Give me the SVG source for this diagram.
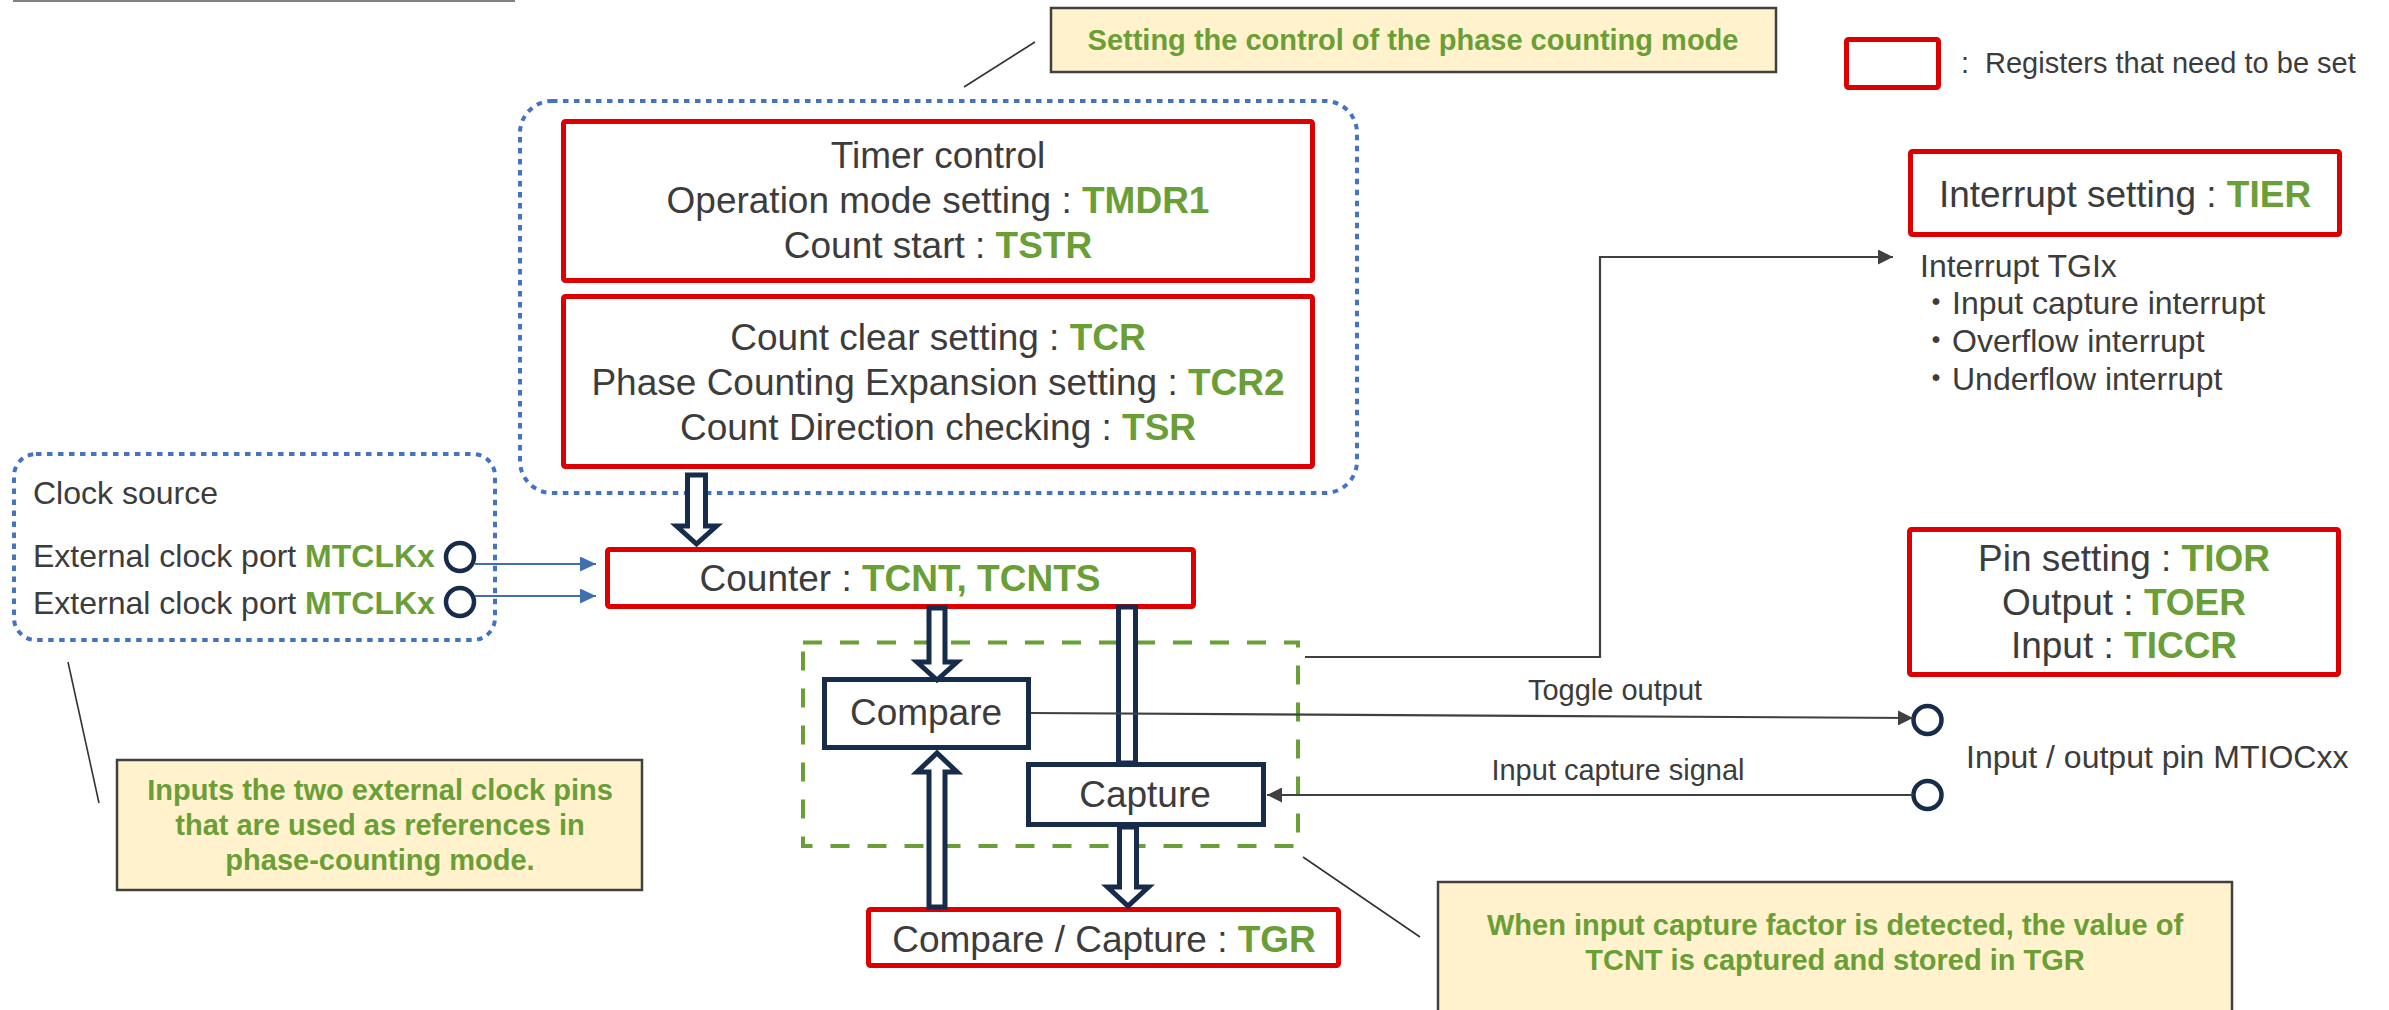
<svg xmlns="http://www.w3.org/2000/svg" width="2389" height="1010" viewBox="0 0 2389 1010">
  <defs>
    <style>
      .txt { font-family: "Liberation Sans", Arial, "Noto Sans CJK JP", sans-serif; fill: #3c3c3c; }
      .reg { font-weight: bold; fill: #6a9e36; }
      .note { font-family: "Liberation Sans", Arial, sans-serif; font-weight: bold; fill: #6a9e36; font-size: 29px; text-anchor: middle; }
      .big { font-size: 37px; text-anchor: middle; }
      .mid { font-size: 32px; }
      .small { font-size: 29px; }
      .redbox { fill: #ffffff; stroke: #dd0000; stroke-width: 5; }
      .navybox { fill: #ffffff; stroke: #172b4a; stroke-width: 5; }
      .hollow { fill: #ffffff; stroke: #172b4a; stroke-width: 5; stroke-linejoin: miter; }
      .dotted { fill: none; stroke: #4472c4; stroke-width: 4; stroke-dasharray: 5.5 5.5; }
      .callout { fill: #fff2cc; stroke: #404040; stroke-width: 2.5; }
      .leader { stroke: #333333; stroke-width: 1.6; fill: none; }
      .wire { stroke: #404040; stroke-width: 2.2; fill: none; }
      .bluewire { stroke: #3e6fb0; stroke-width: 2.2; fill: none; }
      .pin { fill: #ffffff; stroke: #172b4a; stroke-width: 4.5; }
    </style>
    <marker id="arrowDark" markerUnits="userSpaceOnUse" markerWidth="15" markerHeight="15" viewBox="0 0 15 15" refX="15" refY="7.5" orient="auto">
      <path d="M0,0 L15,7.5 L0,15 Z" fill="#404040"/>
    </marker>
    <marker id="arrowBlue" markerUnits="userSpaceOnUse" markerWidth="16" markerHeight="15" viewBox="0 0 16 15" refX="16" refY="7.5" orient="auto">
      <path d="M0,0 L16,7.5 L0,15 Z" fill="#3e6fb0"/>
    </marker>
  </defs>

  <rect width="2389" height="1010" fill="#ffffff"/>

  <!-- header rule -->
  <line x1="13" y1="0.5" x2="515" y2="0.5" stroke="#808080" stroke-width="3"/>

  <!-- legend -->
  <g id="legend">
    <rect x="1846.5" y="39.5" width="92" height="48" rx="2" class="redbox"/>
    <text x="1961" y="73" class="txt small">:</text>
    <text x="1985" y="73" class="txt small">Registers that need to be set</text>
  </g>

  <!-- phase counting control group -->
  <g id="control-group">
    <rect x="520" y="101" width="837" height="392" rx="32" class="dotted"/>
  </g>

  <g id="timer-control">
    <rect x="563.5" y="121.5" width="749" height="159" rx="2" class="redbox"/>
    <text x="938" y="168" class="txt big">Timer control</text>
    <text x="938" y="213" class="txt big">Operation mode setting : <tspan class="reg">TMDR1</tspan></text>
    <text x="938" y="258" class="txt big">Count start : <tspan class="reg">TSTR</tspan></text>
  </g>

  <g id="count-settings">
    <rect x="563.5" y="296.5" width="749" height="170" rx="2" class="redbox"/>
    <text x="938" y="350" class="txt big">Count clear setting : <tspan class="reg">TCR</tspan></text>
    <text x="938" y="395" class="txt big">Phase Counting Expansion setting : <tspan class="reg">TCR2</tspan></text>
    <text x="938" y="440" class="txt big">Count Direction checking : <tspan class="reg">TSR</tspan></text>
  </g>

  <!-- clock source -->
  <g id="clock-source">
    <rect x="14" y="454" width="481" height="186" rx="22" class="dotted"/>
    <text x="33" y="504" class="txt mid">Clock source</text>
    <text x="33" y="567" class="txt mid">External clock port <tspan class="reg">MTCLKx</tspan></text>
    <text x="33" y="614" class="txt mid">External clock port <tspan class="reg">MTCLKx</tspan></text>
    <circle cx="460" cy="557" r="14" class="pin"/>
    <circle cx="460" cy="602" r="14" class="pin"/>
  </g>

  <!-- compare / capture unit -->
  <g id="compare-capture-unit">
    <rect x="803" y="642.5" width="495" height="203.5" fill="none" stroke="#6a9e36" stroke-width="4" stroke-dasharray="19 18"/>
  </g>

  <g id="counter">
    <rect x="607.5" y="549.5" width="586" height="57" rx="2" class="redbox"/>
    <text x="900" y="591" class="txt big">Counter : <tspan class="reg">TCNT, TCNTS</tspan></text>
  </g>

  <g id="compare">
    <rect x="824.5" y="679.5" width="204" height="68" class="navybox"/>
    <text x="926" y="725" class="txt big">Compare</text>
  </g>

  <g id="capture">
    <rect x="1028.5" y="764.5" width="235" height="60" class="navybox"/>
    <text x="1145" y="807" class="txt big">Capture</text>
  </g>

  <g id="tgr">
    <rect x="868.5" y="909.5" width="470" height="56" rx="2" class="redbox"/>
    <text x="1104" y="952" class="txt big">Compare / Capture : <tspan class="reg">TGR</tspan></text>
  </g>

  <!-- interrupt -->
  <g id="interrupt">
    <rect x="1910.5" y="151.5" width="429" height="83" rx="2" class="redbox"/>
    <text x="2125" y="207" class="txt big">Interrupt setting : <tspan class="reg">TIER</tspan></text>
    <text x="1920" y="277" class="txt mid">Interrupt TGIx</text>
    <text x="1920" y="314" class="txt mid">・Input capture interrupt</text>
    <text x="1920" y="352" class="txt mid">・Overflow interrupt</text>
    <text x="1920" y="390" class="txt mid">・Underflow interrupt</text>
  </g>

  <!-- pin settings -->
  <g id="pin-setting">
    <rect x="1909.5" y="529.5" width="429" height="145" rx="2" class="redbox"/>
    <text x="2124" y="571" class="txt big">Pin setting : <tspan class="reg">TIOR</tspan></text>
    <text x="2124" y="615" class="txt big">Output : <tspan class="reg">TOER</tspan></text>
    <text x="2124" y="658" class="txt big">Input : <tspan class="reg">TICCR</tspan></text>
  </g>

  <g id="io-pin">
    <circle cx="1927.5" cy="720" r="14" class="pin"/>
    <circle cx="1927.5" cy="795" r="14" class="pin"/>
    <text x="1966" y="768" class="txt mid">Input / output pin MTIOCxx</text>
  </g>

  <!-- connectors -->
  <g id="connectors">
    <!-- clock inputs -->
    <line x1="475" y1="564" x2="596" y2="564" class="bluewire" marker-end="url(#arrowBlue)"/>
    <line x1="475" y1="596" x2="596" y2="596" class="bluewire" marker-end="url(#arrowBlue)"/>

    <!-- control settings to counter -->
    <path d="M687.5,475 L705.5,475 L705.5,526 L716.5,526 L696.5,544 L676.5,526 L687.5,526 Z" class="hollow"/>
    <!-- counter to compare -->
    <path d="M929,608 L945,608 L945,662 L957,662 L937,680 L917,662 L929,662 Z" class="hollow"/>
    <!-- TGR to compare -->
    <path d="M929,907 L945,907 L945,772 L957,772 L937,753 L917,772 L929,772 Z" class="hollow"/>
    <!-- counter to capture -->
    <rect x="1118.5" y="607" width="17" height="156" class="hollow"/>
    <!-- capture to TGR -->
    <path d="M1119.5,827 L1136.5,827 L1136.5,887 L1148.5,887 L1128,906 L1107.5,887 L1119.5,887 Z" class="hollow"/>

    <!-- interrupt request -->
    <path d="M1305,657 L1600,657 L1600,257 L1893,257" class="wire" marker-end="url(#arrowDark)"/>
    <!-- toggle output -->
    <line x1="1031" y1="713" x2="1913" y2="718" class="wire" marker-end="url(#arrowDark)"/>
    <text x="1615" y="700" class="txt small" text-anchor="middle">Toggle output</text>
    <!-- input capture signal -->
    <line x1="1913" y1="795" x2="1267" y2="795" class="wire" marker-end="url(#arrowDark)"/>
    <text x="1618" y="780" class="txt small" text-anchor="middle">Input capture signal</text>
  </g>

  <!-- notes -->
  <g id="note-control">
    <line x1="1035" y1="42" x2="964" y2="87" class="leader"/>
    <rect x="1051" y="8" width="725" height="64" class="callout"/>
    <text x="1413" y="50" class="note">Setting the control of the phase counting mode</text>
  </g>

  <g id="note-clock">
    <line x1="68" y1="662" x2="99" y2="803" class="leader"/>
    <rect x="117" y="760" width="525" height="130" class="callout"/>
    <text x="380" y="800" class="note">Inputs the two external clock pins</text>
    <text x="380" y="835" class="note">that are used as references in</text>
    <text x="380" y="870" class="note">phase-counting mode.</text>
  </g>

  <g id="note-capture">
    <line x1="1303" y1="857" x2="1420" y2="937" class="leader"/>
    <rect x="1438" y="882" width="794" height="140" class="callout"/>
    <text x="1835" y="935" class="note">When input capture factor is detected, the value of</text>
    <text x="1835" y="970" class="note">TCNT is captured and stored in TGR</text>
  </g>
</svg>
